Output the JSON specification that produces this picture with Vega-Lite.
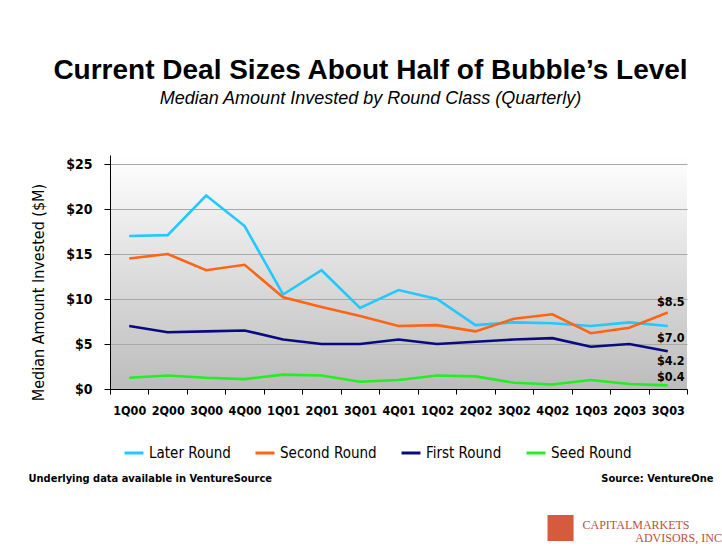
{
  "$schema": "https://vega.github.io/schema/vega-lite/v6.json",
  "width": 577,
  "height": 234,
  "autosize": {"type": "none"},
  "padding": {"left": 110, "top": 155, "right": 35, "bottom": 157},
  "background": "white",
  "title": {
    "text": "Current Deal Sizes About Half of Bubble’s Level",
    "subtitle": "Median Amount Invested by Round Class (Quarterly)",
    "anchor": "middle",
    "frame": "group",
    "dx": -28,
    "offset": 47,
    "font": "Liberation Sans",
    "fontSize": 28,
    "fontWeight": "bold",
    "color": "#000000",
    "subtitleFont": "Liberation Sans",
    "subtitleFontSize": 18,
    "subtitleFontStyle": "italic",
    "subtitleColor": "#000000",
    "subtitlePadding": 5
  },
  "data": {
    "values": [
      {"q": "1Q00", "series": "Later Round", "value": 17.0},
      {"q": "2Q00", "series": "Later Round", "value": 17.1},
      {"q": "3Q00", "series": "Later Round", "value": 21.5},
      {"q": "4Q00", "series": "Later Round", "value": 18.1},
      {"q": "1Q01", "series": "Later Round", "value": 10.5},
      {"q": "2Q01", "series": "Later Round", "value": 13.2},
      {"q": "3Q01", "series": "Later Round", "value": 9.0},
      {"q": "4Q01", "series": "Later Round", "value": 11.0},
      {"q": "1Q02", "series": "Later Round", "value": 10.0},
      {"q": "2Q02", "series": "Later Round", "value": 7.1},
      {"q": "3Q02", "series": "Later Round", "value": 7.4},
      {"q": "4Q02", "series": "Later Round", "value": 7.3},
      {"q": "1Q03", "series": "Later Round", "value": 7.0},
      {"q": "2Q03", "series": "Later Round", "value": 7.4},
      {"q": "3Q03", "series": "Later Round", "value": 7.0},
      {"q": "1Q00", "series": "Second Round", "value": 14.5},
      {"q": "2Q00", "series": "Second Round", "value": 15.0},
      {"q": "3Q00", "series": "Second Round", "value": 13.2},
      {"q": "4Q00", "series": "Second Round", "value": 13.8},
      {"q": "1Q01", "series": "Second Round", "value": 10.2},
      {"q": "2Q01", "series": "Second Round", "value": 9.1},
      {"q": "3Q01", "series": "Second Round", "value": 8.1},
      {"q": "4Q01", "series": "Second Round", "value": 7.0},
      {"q": "1Q02", "series": "Second Round", "value": 7.1},
      {"q": "2Q02", "series": "Second Round", "value": 6.4},
      {"q": "3Q02", "series": "Second Round", "value": 7.8},
      {"q": "4Q02", "series": "Second Round", "value": 8.3},
      {"q": "1Q03", "series": "Second Round", "value": 6.2},
      {"q": "2Q03", "series": "Second Round", "value": 6.8},
      {"q": "3Q03", "series": "Second Round", "value": 8.5},
      {"q": "1Q00", "series": "First Round", "value": 7.0},
      {"q": "2Q00", "series": "First Round", "value": 6.3},
      {"q": "3Q00", "series": "First Round", "value": 6.4},
      {"q": "4Q00", "series": "First Round", "value": 6.5},
      {"q": "1Q01", "series": "First Round", "value": 5.5},
      {"q": "2Q01", "series": "First Round", "value": 5.0},
      {"q": "3Q01", "series": "First Round", "value": 5.0},
      {"q": "4Q01", "series": "First Round", "value": 5.5},
      {"q": "1Q02", "series": "First Round", "value": 5.0},
      {"q": "2Q02", "series": "First Round", "value": 5.25},
      {"q": "3Q02", "series": "First Round", "value": 5.5},
      {"q": "4Q02", "series": "First Round", "value": 5.65},
      {"q": "1Q03", "series": "First Round", "value": 4.7},
      {"q": "2Q03", "series": "First Round", "value": 5.0},
      {"q": "3Q03", "series": "First Round", "value": 4.2},
      {"q": "1Q00", "series": "Seed Round", "value": 1.25},
      {"q": "2Q00", "series": "Seed Round", "value": 1.5},
      {"q": "3Q00", "series": "Seed Round", "value": 1.25},
      {"q": "4Q00", "series": "Seed Round", "value": 1.1},
      {"q": "1Q01", "series": "Seed Round", "value": 1.6},
      {"q": "2Q01", "series": "Seed Round", "value": 1.5},
      {"q": "3Q01", "series": "Seed Round", "value": 0.8},
      {"q": "4Q01", "series": "Seed Round", "value": 1.0},
      {"q": "1Q02", "series": "Seed Round", "value": 1.5},
      {"q": "2Q02", "series": "Seed Round", "value": 1.4},
      {"q": "3Q02", "series": "Seed Round", "value": 0.7},
      {"q": "4Q02", "series": "Seed Round", "value": 0.5},
      {"q": "1Q03", "series": "Seed Round", "value": 1.0},
      {"q": "2Q03", "series": "Seed Round", "value": 0.55},
      {"q": "3Q03", "series": "Seed Round", "value": 0.4}
    ]
  },
  "layer": [
    {
      "mark": {"type": "line", "strokeWidth": 2.6, "strokeJoin": "miter"},
      "encoding": {
        "x": {
          "field": "q", "type": "ordinal", "bandPosition": 0.5,
          "sort": ["1Q00","2Q00","3Q00","4Q00","1Q01","2Q01","3Q01","4Q01","1Q02","2Q02","3Q02","4Q02","1Q03","2Q03","3Q03"],
          "scale": {"type": "band", "paddingInner": 0, "paddingOuter": 0},
          "axis": {
            "orient": "bottom",
            "labelAngle": 0,
            "tickBand": "extent",
            "ticks": true, "tickSize": 5, "tickColor": "#000000",
            "domain": true, "domainColor": "#000000",
            "grid": false,
            "labelFont": "DejaVu Sans Condensed, DejaVu Sans",
            "labelFontSize": 12.5, "labelFontWeight": "bold", "labelColor": "#000000",
            "labelPadding": 10,
            "title": "Underlying data available in VentureSource",
            "titleFont": "DejaVu Sans Condensed, DejaVu Sans",
            "titleFontSize": 11, "titleFontWeight": "bold", "titleColor": "#000000",
            "titleAnchor": "start", "titleAlign": "left", "titleBaseline": "middle",
            "titleX": -82, "titleY": 89
          }
        },
        "y": {
          "field": "value", "type": "quantitative",
          "scale": {"domain": [0, 25]},
          "axis": {
            "orient": "left",
            "values": [0, 5, 10, 15, 20, 25],
            "labelExpr": "'$' + datum.value",
            "labelFont": "DejaVu Sans Condensed, DejaVu Sans",
            "labelFontSize": 14, "labelFontWeight": "bold", "labelColor": "#000000",
            "labelPadding": 12,
            "ticks": true, "tickSize": 6, "tickColor": "#000000",
            "domain": true, "domainColor": "#000000",
            "grid": true, "gridColor": "#a8a8a8", "gridWidth": 1,
            "title": "Median Amount Invested ($M)",
            "titleFont": "DejaVu Sans Condensed, DejaVu Sans",
            "titleFontSize": 16, "titleFontWeight": "normal", "titleColor": "#000000",
            "titleX": -64, "titleY": 137
          }
        },
        "color": {
          "field": "series", "type": "nominal",
          "scale": {
            "domain": ["Later Round", "Second Round", "First Round", "Seed Round"],
            "range": ["#22c8ff", "#ff6414", "#0a0a80", "#22ee22"]
          },
          "legend": {
            "orient": "none",
            "direction": "horizontal",
            "legendX": 13,
            "legendY": 287,
            "title": null,
            "symbolType": "stroke",
            "symbolSize": 361,
            "symbolStrokeWidth": 3,
            "labelFont": "DejaVu Sans Condensed, DejaVu Sans",
            "labelFontSize": 15,
            "labelColor": "#000000",
            "labelOffset": 4,
            "columnPadding": 18
          }
        }
      }
    },
    {
      "transform": [{"filter": "datum.q == '3Q03' && datum.series == 'Second Round'"}],
      "mark": {"type": "text", "dy": -11, "dx": 3, "align": "center", "baseline": "middle", "font": "DejaVu Sans Condensed, DejaVu Sans", "fontSize": 12.5, "fontWeight": "bold", "color": "#000000"},
      "encoding": {
        "x": {"field": "q", "type": "ordinal", "bandPosition": 0.5, "sort": ["1Q00","2Q00","3Q00","4Q00","1Q01","2Q01","3Q01","4Q01","1Q02","2Q02","3Q02","4Q02","1Q03","2Q03","3Q03"], "axis": null},
        "y": {
          "field": "value", "type": "quantitative",
          "axis": {
            "orient": "right", "offset": 0, "labels": false, "ticks": false, "domain": false, "grid": false,
            "title": "Source: VentureOne",
            "titleFont": "DejaVu Sans Condensed, DejaVu Sans",
            "titleFontSize": 11, "titleFontWeight": "bold", "titleColor": "#000000",
            "titleAngle": 0, "titleAlign": "right", "titleBaseline": "middle",
            "titleX": 26, "titleY": 323
          }
        },
        "text": {"field": "value", "type": "quantitative", "format": "$.1f"}
      }
    },
    {
      "transform": [{"filter": "datum.q == '3Q03' && datum.series == 'Later Round'"}],
      "mark": {"type": "text", "dy": 12, "dx": 3, "align": "center", "baseline": "middle", "font": "DejaVu Sans Condensed, DejaVu Sans", "fontSize": 12.5, "fontWeight": "bold", "color": "#000000"},
      "encoding": {
        "x": {
          "field": "q", "type": "ordinal", "bandPosition": 0.5,
          "sort": ["1Q00","2Q00","3Q00","4Q00","1Q01","2Q01","3Q01","4Q01","1Q02","2Q02","3Q02","4Q02","1Q03","2Q03","3Q03"],
          "axis": {
            "orient": "top", "offset": 0, "labels": false, "ticks": false, "domain": false, "grid": false,
            "title": ["CAPITALMARKETS", "\u2800\u2800\u2800\u2800\u2800\u2800ADVISORS, INC"],
            "titleFont": "Liberation Serif, DejaVu Sans",
            "titleFontSize": 12, "titleFontWeight": "normal", "titleColor": "#b5533f",
            "titleAnchor": "start", "titleAlign": "left", "titleBaseline": "alphabetic",
            "titleLineHeight": 13, "titleLimit": 300,
            "titleX": 472, "titleY": 373
          }
        },
        "y": {"field": "value", "type": "quantitative", "axis": null},
        "text": {"field": "value", "type": "quantitative", "format": "$.1f"}
      }
    },
    {
      "transform": [{"filter": "datum.q == '3Q03' && datum.series == 'First Round'"}],
      "mark": {"type": "text", "dy": 10, "dx": 3, "align": "center", "baseline": "middle", "font": "DejaVu Sans Condensed, DejaVu Sans", "fontSize": 12.5, "fontWeight": "bold", "color": "#000000"},
      "encoding": {
        "x": {"field": "q", "type": "ordinal", "bandPosition": 0.5, "sort": ["1Q00","2Q00","3Q00","4Q00","1Q01","2Q01","3Q01","4Q01","1Q02","2Q02","3Q02","4Q02","1Q03","2Q03","3Q03"], "axis": null},
        "y": {
          "field": "value", "type": "quantitative",
          "axis": {
            "orient": "left", "offset": 0, "labels": false, "ticks": false, "domain": false, "grid": false,
            "title": "■",
            "titleFont": "DejaVu Sans",
            "titleFontSize": 34, "titleFontWeight": "normal", "titleColor": "#d65a3e",
            "titleAngle": 0, "titleAlign": "left", "titleBaseline": "middle",
            "titleX": 434, "titleY": 371
          }
        },
        "text": {"field": "value", "type": "quantitative", "format": "$.1f"}
      }
    },
    {
      "transform": [{"filter": "datum.q == '3Q03' && datum.series == 'Seed Round'"}],
      "mark": {"type": "text", "dy": -8, "dx": 3, "align": "center", "baseline": "middle", "font": "DejaVu Sans Condensed, DejaVu Sans", "fontSize": 12.5, "fontWeight": "bold", "color": "#000000"},
      "encoding": {
        "x": {"field": "q", "type": "ordinal", "bandPosition": 0.5, "sort": ["1Q00","2Q00","3Q00","4Q00","1Q01","2Q01","3Q01","4Q01","1Q02","2Q02","3Q02","4Q02","1Q03","2Q03","3Q03"], "axis": null},
        "y": {"field": "value", "type": "quantitative", "axis": null},
        "text": {"field": "value", "type": "quantitative", "format": "$.1f"}
      }
    }
  ],
  "resolve": {"axis": {"x": "independent", "y": "independent"}},
  "config": {
    "view": {
      "stroke": null,
      "fill": {
        "gradient": "linear", "x1": 0, "y1": 0, "x2": 0, "y2": 1,
        "stops": [{"offset": 0, "color": "#ffffff"}, {"offset": 1, "color": "#bcbcbc"}]
      }
    }
  }
}
